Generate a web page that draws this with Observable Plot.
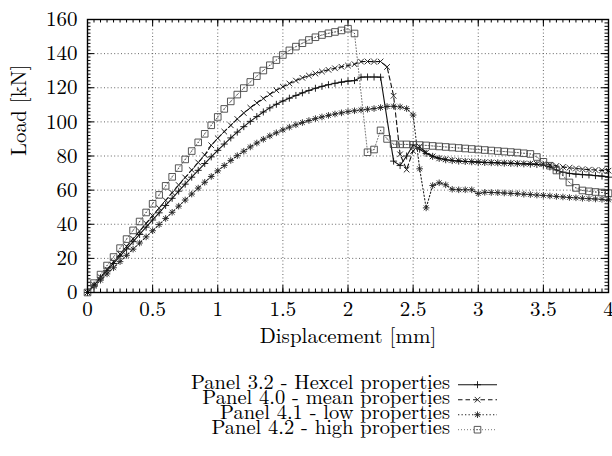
<!DOCTYPE html>
<html><head><meta charset="utf-8">
<script src="https://cdn.jsdelivr.net/npm/d3@7"></script>
<script src="https://cdn.jsdelivr.net/npm/@observablehq/plot@0.6"></script>
<style>
body{margin:0;background:#fff;}
#wrap{position:relative;width:612px;height:456px;overflow:hidden;}
#wrap svg, #wrap svg text{font-family:"Latin Modern Roman", "Liberation Serif", serif;}
</style></head><body><div id="wrap"></div>
<script>
// ---- data ----
const seriesNames = ["Panel 3.2 - Hexcel properties","Panel 4.0 - mean properties","Panel 4.1 - low properties","Panel 4.2 - high properties"];

const dispHexcel = [0,0.05,0.1,0.15,0.2,0.25,0.3,0.35,0.4,0.45,0.5,0.55,0.6,0.65,0.7,0.75,0.8,0.85,0.9,0.95,1,1.05,1.1,1.15,1.2,1.25,1.3,1.35,1.4,1.45,1.5,1.55,1.6,1.65,1.7,1.75,1.8,1.85,1.9,1.95,2,2.05,2.1,2.15,2.2,2.25,2.35,2.4,2.45,2.5,2.55,2.6,2.65,2.7,2.75,2.8,2.85,2.9,2.95,3,3.05,3.1,3.15,3.2,3.25,3.3,3.35,3.4,3.45,3.5,3.55,3.6,3.65,3.7,3.75,3.8,3.85,3.9,3.95,4];
const loadHexcel = [0,4.3,8.5,12.8,17.0,21.3,25.5,29.8,34.0,38.3,42.5,46.7,51.0,55.2,59.4,63.5,67.6,71.6,75.6,79.5,83.3,87.0,90.6,94.0,97.2,100.3,103.1,105.8,108.2,110.3,112.2,113.9,115.5,117.0,118.4,119.7,120.8,121.8,122.6,123.3,123.9,124.2,126.2,126.3,126.3,126.2,77.0,74.4,80.0,86.5,84.0,81.5,79.8,78.6,77.8,77.3,77.0,76.8,76.6,76.4,76.2,76.1,76.0,75.8,75.7,75.5,75.4,75.2,75.0,74.6,73.6,71.8,70.5,69.8,69.4,69.1,68.9,68.5,68.2,67.6];

const dispMean = [0,0.05,0.1,0.15,0.2,0.25,0.3,0.35,0.4,0.45,0.5,0.55,0.6,0.65,0.7,0.75,0.8,0.85,0.9,0.95,1,1.05,1.1,1.15,1.2,1.25,1.3,1.35,1.4,1.45,1.5,1.55,1.6,1.65,1.7,1.75,1.8,1.85,1.9,1.95,2,2.05,2.1,2.15,2.2,2.25,2.3,2.35,2.4,2.45,2.5,2.55,2.6,2.65,2.7,2.75,2.8,2.85,2.9,2.95,3,3.05,3.1,3.15,3.2,3.25,3.3,3.35,3.4,3.45,3.5,3.55,3.6,3.65,3.7,3.75,3.8,3.85,3.9,3.95,4];
const loadMean = [0,4.5,9.0,13.5,18.0,22.5,27.0,31.5,36.0,40.5,45.0,49.5,54.0,58.5,63.0,67.4,71.8,76.2,80.6,86.3,90.4,94.3,98.0,101.7,105.2,108.3,111.1,113.7,116.2,118.5,120.6,122.5,124.2,125.8,127.1,128.3,129.5,130.5,131.4,132.3,133.0,133.8,135.3,135.4,135.3,135.4,132.2,115.3,81.0,72.0,83.0,85.5,82.0,79.8,78.6,78.0,77.5,77.2,76.9,76.7,76.5,76.3,76.2,76.0,75.9,75.8,75.7,75.6,75.5,75.4,75.2,74.8,74.2,73.6,73.1,72.7,72.3,72.0,71.8,71.6,71.4];

const dispLow = [0,0.05,0.1,0.15,0.2,0.25,0.3,0.35,0.4,0.45,0.5,0.55,0.6,0.65,0.7,0.75,0.8,0.85,0.9,0.95,1,1.05,1.1,1.15,1.2,1.25,1.3,1.35,1.4,1.45,1.5,1.55,1.6,1.65,1.7,1.75,1.8,1.85,1.9,1.95,2,2.05,2.1,2.15,2.2,2.25,2.3,2.35,2.4,2.45,2.5,2.55,2.6,2.65,2.7,2.75,2.8,2.85,2.9,2.95,3,3.05,3.1,3.15,3.2,3.25,3.3,3.35,3.4,3.45,3.5,3.55,3.6,3.65,3.7,3.75,3.8,3.85,3.9,3.95,4];
const loadLow = [0,3.6,7.2,10.9,14.5,18.1,21.8,25.4,29.0,32.6,36.2,39.8,43.4,47.0,50.6,54.2,57.7,61.2,64.6,68.0,71.3,74.4,77.4,80.2,82.8,85.3,87.6,89.8,91.8,93.6,95.3,96.9,98.3,99.6,100.8,101.9,102.9,103.8,104.6,105.3,106.0,106.5,107.0,107.4,107.8,108.4,109.0,109.2,108.8,107.8,104.0,72.5,49.6,62.7,64.3,63.1,60.5,60.2,60.2,60.2,58.0,58.7,58.6,58.5,58.3,58.1,57.9,57.6,57.4,57.1,56.9,56.6,56.3,56.0,55.7,55.5,55.2,55.0,54.8,54.6,54.3];

const dispHigh = [0,0.05,0.1,0.15,0.2,0.25,0.3,0.35,0.4,0.45,0.5,0.55,0.6,0.65,0.7,0.75,0.8,0.85,0.9,0.95,1,1.05,1.1,1.15,1.2,1.25,1.3,1.35,1.4,1.45,1.5,1.55,1.6,1.65,1.7,1.75,1.8,1.85,1.9,1.95,2,2.05,2.15,2.2,2.25,2.3,2.35,2.4,2.45,2.5,2.55,2.6,2.65,2.7,2.75,2.8,2.85,2.9,2.95,3,3.05,3.1,3.15,3.2,3.25,3.3,3.35,3.4,3.45,3.5,3.55,3.6,3.65,3.7,3.75,3.8,3.85,3.9,3.95,4];
const loadHigh = [0,5.5,10.5,15.8,20.8,26.0,31.3,36.4,41.6,46.9,52.0,57.2,62.5,67.8,72.9,78.0,82.9,88.0,93.0,98.0,102.9,107.6,112.0,116.0,119.8,123.4,126.8,130.1,133.2,136.2,139.2,141.9,144.1,146.1,148.0,149.6,150.9,151.9,152.7,153.6,154.6,151.8,82.2,83.8,95.0,90.0,86.9,86.8,86.8,86.6,86.4,86.2,85.9,85.6,85.3,85.0,84.7,84.4,84.1,83.8,83.5,83.2,82.9,82.6,82.3,82.0,81.6,81.2,79.4,76.6,74.3,71.5,68.5,64.5,61.3,59.8,59.3,58.9,58.6,58.2];

const xTicks = [0,0.5,1,1.5,2,2.5,3,3.5,4];
const yTicks = [0,20,40,60,80,100,120,140,160];
const xLabel = "Displacement [mm]";
const yLabel = "Load [kN]";

const FONT = "Latin Modern Roman";

// ---- marker shapes (gnuplot style) ----
const symPlus = {draw(c){const r=3.5;c.moveTo(-r,0);c.lineTo(r,0);c.moveTo(0,-r);c.lineTo(0,r);}};
const symTimes = {draw(c){const r=2.8;c.moveTo(-r,-r);c.lineTo(r,r);c.moveTo(-r,r);c.lineTo(r,-r);}};
const symStar = {draw(c){const r=3.3,s=2.4;c.moveTo(-r,0);c.lineTo(r,0);c.moveTo(0,-r);c.lineTo(0,r);c.moveTo(-s,-s);c.lineTo(s,s);c.moveTo(-s,s);c.lineTo(s,-s);}};
const symBox = {draw(c){const r=3.3;c.moveTo(-r,-r);c.lineTo(r,-r);c.lineTo(r,r);c.lineTo(-r,r);c.closePath();c.moveTo(-0.5,0);c.lineTo(0.5,0);}};

const styles = [
  {line:{stroke:"#111",strokeWidth:1.1}, sym:symPlus, mstroke:"#111"},
  {line:{stroke:"#111",strokeWidth:1.1,strokeDasharray:"4.5,3"}, sym:symTimes, mstroke:"#111"},
  {line:{stroke:"#222",strokeWidth:1.1,strokeDasharray:"1.3,2.2"}, sym:symStar, mstroke:"#222"},
  {line:{stroke:"#777",strokeWidth:1,strokeDasharray:"1,2"}, sym:symBox, mstroke:"#444"}
];

const series = [
  {x: dispHexcel, y: loadHexcel},
  {x: dispMean, y: loadMean},
  {x: dispLow, y: loadLow},
  {x: dispHigh, y: loadHigh}
].map((s,i)=>s.x.map((x,j)=>({x, y: s.y[j], name: seriesNames[i]})));

const W = 612, H = 360, mt = 19, mb = 68, ml = 87, mr = 4;
const fw = W - ml - mr, fh = H - mt - mb;
const xMinor = d3.range(0, 81).map(i => i * 0.05);
const yMinor = d3.range(0, 81).map(i => i * 2);
const majLen = 7, minLen = 3.5;

const marks = [
  Plot.gridX(xTicks, {stroke:"#555", strokeOpacity:1, strokeWidth:0.9, strokeDasharray:"1,2.4"}),
  Plot.gridY(yTicks, {stroke:"#555", strokeOpacity:1, strokeWidth:0.9, strokeDasharray:"1,2.4"}),
  // inward ticks on all four sides
  Plot.tickX(xMinor, {x:d=>d, insetTop: fh - minLen, stroke:"#000"}),
  Plot.tickX(xMinor, {x:d=>d, insetBottom: fh - minLen, stroke:"#000"}),
  Plot.tickX(xTicks, {x:d=>d, insetTop: fh - majLen, stroke:"#000"}),
  Plot.tickX(xTicks, {x:d=>d, insetBottom: fh - majLen, stroke:"#000"}),
  Plot.tickY(yMinor, {y:d=>d, insetRight: fw - minLen, stroke:"#000"}),
  Plot.tickY(yMinor, {y:d=>d, insetLeft: fw - minLen, stroke:"#000"}),
  Plot.tickY(yTicks, {y:d=>d, insetRight: fw - majLen, stroke:"#000"}),
  Plot.tickY(yTicks, {y:d=>d, insetLeft: fw - majLen, stroke:"#000"}),
  Plot.axisX(xTicks, {tickSize:0, tickPadding:9, tickFormat:d=>String(d), fontSize:21, fontFamily:FONT, label:null}),
  Plot.axisY(yTicks, {tickSize:0, tickPadding:10, tickFormat:d=>String(d), fontSize:21, fontFamily:FONT, label:null}),
  Plot.text([xLabel], {text:d=>d, frameAnchor:"bottom", dy:50, fontSize:21, fontFamily:FONT}),
  Plot.text([yLabel], {text:d=>d, frameAnchor:"left", dx:-68, rotate:-90, fontSize:21, fontFamily:FONT})
];
series.forEach((data,i)=>{
  const s = styles[i];
  marks.push(Plot.line(data, {x:"x", y:"y", ...s.line}));
});
series.forEach((data,i)=>{
  const s = styles[i];
  marks.push(Plot.dot(data, {x:"x", y:"y", r:3, symbol:s.sym, fill:"none", stroke:s.mstroke, strokeWidth:0.9}));
});
marks.push(Plot.frame({stroke:"#000", strokeWidth:1.4}));

const chart = Plot.plot({
  width: W, height: H,
  marginTop: mt, marginBottom: mb, marginLeft: ml, marginRight: mr,
  x: {domain:[0,4]},
  y: {domain:[0,160]},
  style: {fontFamily:FONT + ", serif", fontSize:"21px", color:"#000", background:"#fff", overflow:"visible"},
  marks
});
const wrap = document.getElementById("wrap");
wrap.appendChild(chart);

// ---- legend below the plot ----
const lg = d3.select(wrap).append("svg")
  .attr("width", W).attr("height", 456 - H)
  .style("position","absolute").style("left","0px").style("top", H + "px")
  .style("font-family", FONT + ", serif");
seriesNames.forEach((name,i)=>{
  const s = styles[i];
  const base = 389.3 - H + i*15;
  const cy = base - 4.6;
  lg.append("text").attr("x",450).attr("y",base).attr("text-anchor","end")
    .attr("font-size",20.5).attr("fill","#000").text(name);
  const ln = lg.append("line").attr("x1",458).attr("x2",497).attr("y1",cy).attr("y2",cy)
    .attr("stroke",s.line.stroke).attr("stroke-width",s.line.strokeWidth);
  if (s.line.strokeDasharray) ln.attr("stroke-dasharray", s.line.strokeDasharray);
  lg.append("path").attr("d", d3.symbol(s.sym)()).attr("transform",`translate(477.5,${cy})`)
    .attr("fill","none").attr("stroke",s.mstroke).attr("stroke-width",0.9);
});
</script></body></html>
